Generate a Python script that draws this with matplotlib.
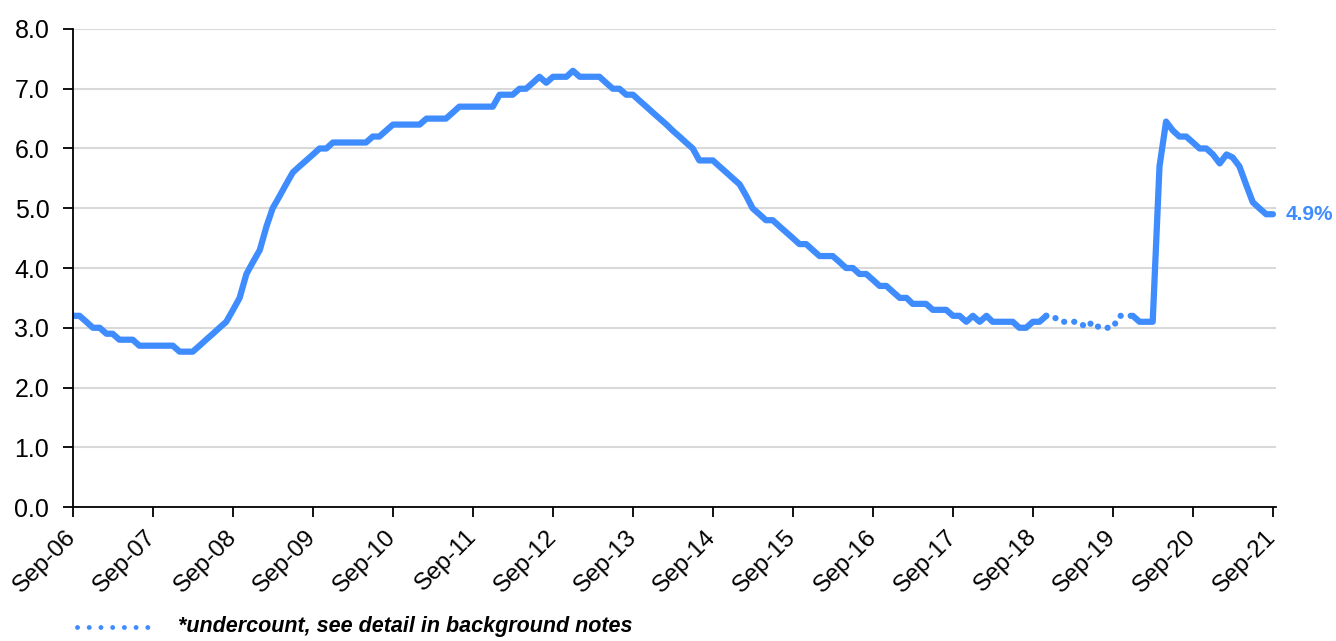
import matplotlib
matplotlib.use("Agg")
import matplotlib.pyplot as plt
import matplotlib.dates as mdates
from matplotlib.lines import Line2D
import pandas as pd

plt.rcParams.update({
    "font.family": ["Liberation Sans", "DejaVu Sans"],
    "font.size": 18,
})

BLUE = "#3F8CFF"

# monthly rate, Sep-06 .. Sep-21
rate = [
    3.2, 3.2, 3.1, 3.0, 3.0, 2.9, 2.9, 2.8, 2.8, 2.8, 2.7, 2.7,   # Sep-06
    2.7, 2.7, 2.7, 2.7, 2.6, 2.6, 2.6, 2.7, 2.8, 2.9, 3.0, 3.1,   # Sep-07
    3.3, 3.5, 3.9, 4.1, 4.3, 4.7, 5.0, 5.2, 5.4, 5.6, 5.7, 5.8,   # Sep-08
    5.9, 6.0, 6.0, 6.1, 6.1, 6.1, 6.1, 6.1, 6.1, 6.2, 6.2, 6.3,   # Sep-09
    6.4, 6.4, 6.4, 6.4, 6.4, 6.5, 6.5, 6.5, 6.5, 6.6, 6.7, 6.7,   # Sep-10
    6.7, 6.7, 6.7, 6.7, 6.9, 6.9, 6.9, 7.0, 7.0, 7.1, 7.2, 7.1,   # Sep-11
    7.2, 7.2, 7.2, 7.3, 7.2, 7.2, 7.2, 7.2, 7.1, 7.0, 7.0, 6.9,   # Sep-12
    6.9, 6.8, 6.7, 6.6, 6.5, 6.4, 6.3, 6.2, 6.1, 6.0, 5.8, 5.8,   # Sep-13
    5.8, 5.7, 5.6, 5.5, 5.4, 5.2, 5.0, 4.9, 4.8, 4.8, 4.7, 4.6,   # Sep-14
    4.5, 4.4, 4.4, 4.3, 4.2, 4.2, 4.2, 4.1, 4.0, 4.0, 3.9, 3.9,   # Sep-15
    3.8, 3.7, 3.7, 3.6, 3.5, 3.5, 3.4, 3.4, 3.4, 3.3, 3.3, 3.3,   # Sep-16
    3.2, 3.2, 3.1, 3.2, 3.1, 3.2, 3.1, 3.1, 3.1, 3.1, 3.0, 3.0,   # Sep-17
    3.1, 3.1, 3.2, 3.2, 3.1, 3.1, 3.1, 3.1, 3.0, 3.1, 3.0, 3.0,   # Sep-18
    3.0, 3.2, 3.2, 3.2, 3.1, 3.1, 3.1, 5.7, 6.45, 6.3, 6.2, 6.2,  # Sep-19
    6.1, 6.0, 6.0, 5.9, 5.75, 5.9, 5.85, 5.7, 5.4, 5.1, 5.0, 4.9,  # Sep-20
    4.9,                                                          # Sep-21
]
months = pd.date_range("2006-09-01", periods=len(rate), freq="MS")
s = pd.Series(rate, index=months)

# undercount period drawn dotted
undercount_start = "2018-11-01"
undercount_end = "2019-12-01"

fig = plt.figure(figsize=(13.36, 6.41), dpi=100)
ax = fig.add_axes([0.0546, 0.209, 0.9005, 0.7458])

ax.plot(s[:undercount_start].index, s[:undercount_start].values,
        color=BLUE, lw=4.5, solid_joinstyle="round", solid_capstyle="round")
ax.plot(s[undercount_end:].index, s[undercount_end:].values,
        color=BLUE, lw=4.5, solid_joinstyle="round", solid_capstyle="round")
ax.plot(s[undercount_start:undercount_end].index, s[undercount_start:undercount_end].values,
        color=BLUE, lw=4.5, linestyle=(0, (0.01, 1.6)), dash_capstyle="round")

ax.set_ylim(0, 8)
ax.set_yticks([0, 1, 2, 3, 4, 5, 6, 7, 8])
ax.set_yticklabels([f"{v:.1f}" for v in range(9)])
ax.set_xlim(pd.Timestamp("2006-09-01"), pd.Timestamp("2021-09-15"))
ax.set_xticks(pd.date_range("2006-09-01", "2021-09-01", freq="12MS"))
ax.xaxis.set_major_formatter(mdates.DateFormatter("%b-%y"))
plt.setp(ax.get_xticklabels(), rotation=45, ha="right", va="center",
         rotation_mode="anchor", fontsize=17.5)

ax.grid(axis="y", color="#d9d9d9", lw=1.5)
ax.set_axisbelow(True)
for side in ["top", "right"]:
    ax.spines[side].set_visible(False)
ax.spines["left"].set_linewidth(1.3)
ax.spines["bottom"].set_linewidth(1.3)
ax.tick_params(axis="both", direction="out", length=7, width=1.3)
ax.tick_params(axis="y", pad=10)
ax.tick_params(axis="x", pad=12)

ax.annotate(f"{rate[-1]:.1f}%", xy=(months[-1], rate[-1]), xytext=(9, 0),
            textcoords="offset points", ha="left", va="center",
            color=BLUE, fontsize=15, fontweight="bold")

# footnote legend
fig.add_artist(Line2D([0.058, 0.117], [0.022, 0.022], transform=fig.transFigure,
                      color=BLUE, lw=3.5, linestyle=(0, (0.01, 2.4)),
                      dash_capstyle="round"))
fig.text(0.133, 0.022, "*undercount, see detail in background notes",
         fontsize=15.5, fontweight="bold", fontstyle="italic", va="center")

fig.savefig("out.png", dpi=100)
